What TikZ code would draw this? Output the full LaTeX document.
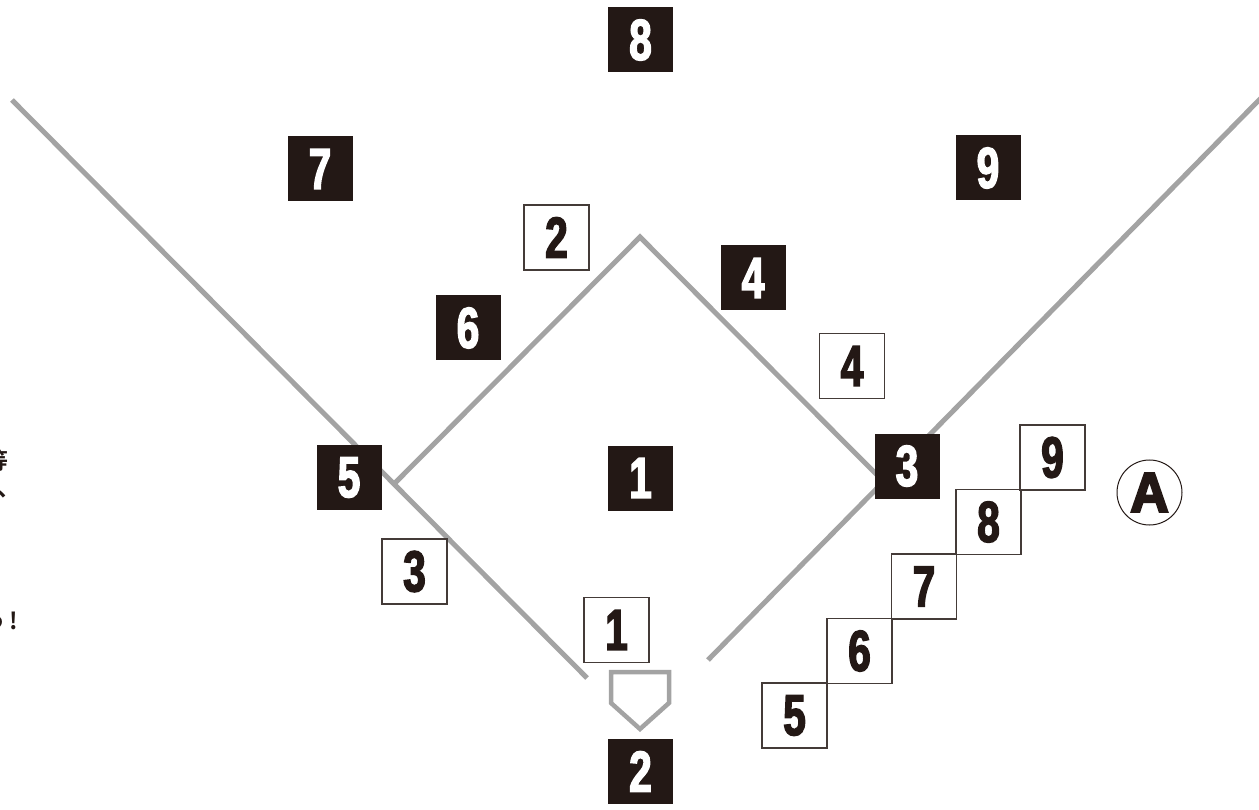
\documentclass[tikz,border=0pt]{standalone}
\usepackage{fontspec}
\newfontfamily\numfont{Liberation Sans Bold}[FakeStretch=0.70,FakeBold=2.4]
\newfontfamily\afont{Liberation Sans Bold}[FakeStretch=0.95,FakeBold=4]
\newfontfamily\jpfont{Noto Sans CJK JP Bold}
\definecolor{ink}{HTML}{231815}
\definecolor{field}{HTML}{A3A3A3}
\begin{document}
\begin{tikzpicture}[x=1pt,y=-1pt,
  fieldline/.style={draw=field,line width=5pt},
  bbox/.style={fill=ink,minimum size=65pt,inner sep=0pt,text=white,
    font=\numfont\fontsize{58}{58}\selectfont},
  wbox/.style={draw=ink!85,line width=1.2pt,fill=white,minimum size=65pt,inner sep=0pt,text=ink,
    font=\numfont\fontsize{58}{58}\selectfont},
  jp/.style={inner sep=0pt,text=ink,font=\jpfont\fontsize{23}{23}\selectfont}]
\useasboundingbox (0,0) rectangle (1259,810);
% field lines
\coordinate (lftop) at (12,100);
\coordinate (lfend) at (587,678);
\coordinate (rftop) at (1263,96);
\coordinate (rfend) at (708,660);
\coordinate (third) at (394,484);
\coordinate (second) at (640,237);
\coordinate (first) at (884,482);
\draw[fieldline] (lftop) -- (lfend);
\draw[fieldline] (rftop) -- (rfend);
\draw[fieldline,miter limit=10] (third) -- (second) -- (first);
% home plate
\coordinate (hpa) at (611,672);
\coordinate (hpb) at (669,672);
\coordinate (hpc) at (669,703);
\coordinate (hpd) at (640,729);
\coordinate (hpe) at (611,703);
\draw[fieldline,line width=4.5pt] (hpa) -- (hpb) -- (hpc) -- (hpd) -- (hpe) -- cycle;
% black boxes (defense positions)
\node[bbox] (b8) at (640.5,40) {8};
\node[bbox] (b7) at (320,169) {7};
\node[bbox] (b9) at (988,168) {9};
\node[bbox] (b6) at (468,328) {6};
\node[bbox] (b4) at (753,278) {4};
\node[bbox] (b5) at (349,477.5) {5};
\node[bbox] (b1) at (640.5,478) {1};
\node[bbox] (b3) at (907,466) {3};
\node[bbox] (b2) at (640.5,771.5) {2};
% white boxes
\node[wbox] (w2) at (556.5,237.5) {2};
\node[wbox] (w4) at (852,366) {4};
\node[wbox] (w3) at (414.5,571.5) {3};
\node[wbox] (w1) at (616.5,630) {1};
\node[wbox] (w5) at (794.5,715.5) {5};
\node[wbox] (w6) at (859.5,651) {6};
\node[wbox] (w7) at (924,586.5) {7};
\node[wbox] (w8) at (988.5,522) {8};
\node[wbox] (w9) at (1052.5,457.5) {9};
% circled A
\node[draw=ink,line width=1pt,circle,minimum size=65pt,inner sep=0pt,text=ink,
  font=\afont\fontsize{56}{56}\selectfont] (ca) at (1149.5,492.5) {A};
% cut-off text at the left edge
\node[jp,anchor=east] (t1) at (9,461) {等};
\node[jp,anchor=base west] (t2) at (-3,496) {、};
\node[jp,anchor=base east] (t3) at (18,629) {う\kern3pt!};
\end{tikzpicture}
\end{document}
